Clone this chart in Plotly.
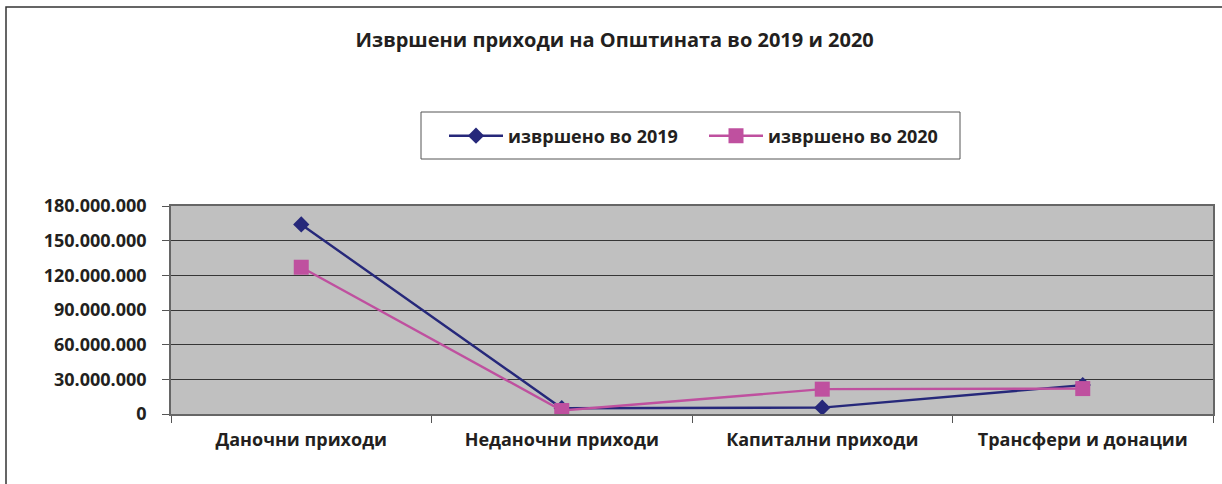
import plotly.graph_objects as go

categories = ["Даночни приходи", "Неданочни приходи", "Капитални приходи", "Трансфери и донации"]
series_names = ["извршено во 2019", "извршено во 2020"]
values_2019 = [164000000, 5000000, 5500000, 25000000]
values_2020 = [127000000, 3000000, 21500000, 22000000]
y_tick_values = [0, 30000000, 60000000, 90000000, 120000000, 150000000, 180000000]
y_tick_labels = ["0", "30.000.000", "60.000.000", "90.000.000", "120.000.000", "150.000.000", "180.000.000"]
title_text = "Извршени приходи на Општината во 2019 и 2020"

W, H = 1222, 484
L, R, T, B = 171, 9, 206, 70
pw, ph = W - L - R, H - T - B

def px_x(x):
    return (x - L) / pw

def px_y(y):
    return (H - B - y) / ph

FONT = "Open Sans"
TXT = "#231F20"
C19 = "#26287A"
C20 = "#BF509F"

fig = go.Figure()
fig.add_trace(go.Scatter(
    x=categories, y=values_2019, name=series_names[0], mode="lines+markers",
    line=dict(color=C19, width=2.4),
    marker=dict(symbol="diamond", size=12.5, color=C19),
))
fig.add_trace(go.Scatter(
    x=categories, y=values_2020, name=series_names[1], mode="lines+markers",
    line=dict(color=C20, width=2.4),
    marker=dict(symbol="square", size=15, color=C20),
))

fig.update_layout(
    width=W, height=H,
    margin=dict(l=L, r=R, t=T, b=B, pad=0, autoexpand=False),
    paper_bgcolor="white",
    plot_bgcolor="#C0C0C0",
    font=dict(family=FONT, color=TXT),
    title=dict(text="<b>" + title_text + "</b>", x=0.503, xanchor="center",
               y=1 - 40 / H, yanchor="middle", yref="container",
               font=dict(size=20, family=FONT, color=TXT)),
    showlegend=True,
    legend=dict(orientation="h", x=px_x(444), y=px_y(136), xanchor="left", yanchor="middle",
                xref="paper", yref="paper",
                borderwidth=0, bgcolor="rgba(0,0,0,0)",
                font=dict(size=18, family=FONT, color=TXT, weight="bold"),
                itemwidth=54, tracegroupgap=0, entrywidth=191, entrywidthmode="pixels"),
    xaxis=dict(type="category", range=[-0.5, 3.5], tickson="boundaries",
               ticks="outside", ticklen=7, tickcolor="#555555", tickwidth=1,
               showline=True, linecolor="#666666", linewidth=1.5, mirror=True,
               showgrid=False, zeroline=False, automargin=False,
               tickfont=dict(size=18, family=FONT, color=TXT, weight="bold"),
               ticklabelstandoff=9),
    yaxis=dict(range=[0, 180000000], tickvals=y_tick_values, ticktext=y_tick_labels,
               ticks="outside", ticklen=7, tickcolor="#555555", tickwidth=1,
               showline=True, linecolor="#666666", linewidth=1.5, mirror=True,
               showgrid=True, gridcolor="#363636", gridwidth=1.2, zeroline=False,
               automargin=False,
               tickfont=dict(size=18, family=FONT, color=TXT, weight="bold"),
               ticklabelstandoff=12),
)

# legend box
fig.add_shape(type="rect", xref="paper", yref="paper",
              x0=px_x(421), x1=px_x(960), y0=px_y(159), y1=px_y(112),
              line=dict(color="#555555", width=1), fillcolor="white", layer="below")

# outer chart frame
fig.add_shape(type="rect", xref="paper", yref="paper",
              x0=px_x(6), x1=px_x(1240), y0=px_y(500), y1=px_y(7),
              line=dict(color="#333333", width=1.5), fillcolor="rgba(0,0,0,0)", layer="below")

fig.write_html("out.html", config={"displayModeBar": False},
               post_script="document.body.style.margin='0px';document.body.style.overflow='hidden';")
